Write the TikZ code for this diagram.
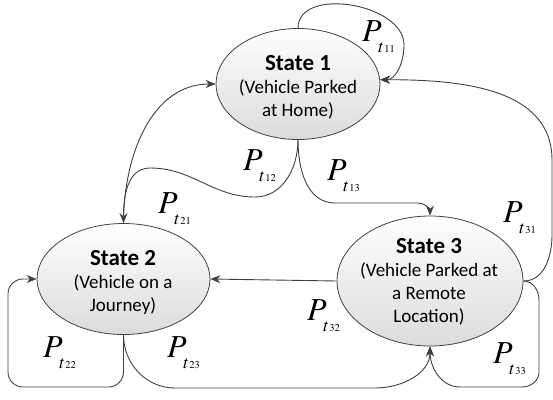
\documentclass[tikz,border=0pt]{standalone}
\usepackage{mathptmx}
\usepackage[no-math]{fontspec}
\setmainfont{Carlito}
\usepackage{tikz}
\usetikzlibrary{arrows.meta,shapes.geometric}
\definecolor{linegray}{HTML}{404040}
\def\ptr#1{{\fontsize{32}{32}\selectfont$P$}\kern-3.5pt\raisebox{-11pt}{\fontsize{18}{18}\selectfont$t$\kern0.3pt\fontsize{10.5}{10.5}\selectfont$#1$}}

\begin{document}
\begin{tikzpicture}[x=1pt,y=-1pt,
	state/.style={ellipse,draw=linegray,line width=0.8pt,top color=white,bottom color=black!14,inner sep=0pt},
	stext/.style={align=center,font=\fontsize{19}{23}\selectfont},
	trans/.style={draw=linegray,line width=0.9pt},
	arr/.style={-{Stealth[length=10pt,width=8pt]}},
	lbl/.style={inner sep=0pt,anchor=base west}]
			%%%%% START %%%%%
			\useasboundingbox (0,0) rectangle (553,399);
			
			\node[state, minimum width=164pt, minimum height=111pt] (s1) at (298, 84) {};
			\node[state, minimum width=173pt, minimum height=111pt] (s2) at (123.5, 279) {};
			\node[state, minimum width=186pt, minimum height=130pt] (s3) at (430, 281) {};
			
			\node[stext] (t1) at (298, 87) {{\fontsize{23}{25}\selectfont\bfseries State 1}\\(Vehicle Parked\\at Home)};
			\node[stext] (t2) at (123, 282) {{\fontsize{23}{25}\selectfont\bfseries State 2}\\(Vehicle on a\\Journey)};
			\node[stext] (t3) at (429, 282) {{\fontsize{23}{25}\selectfont\bfseries State 3}\\(Vehicle Parked at\\a Remote\\Location)};
			
			\draw[trans, arr] (s1.north) to[out=90, in=90] (404, 45) to[out=-90, in=0] (s1.3);
			\draw[trans, arr] (s2.north) to[out=90, in=180] (s1.west);
			\draw[trans, arr] (s1.south) to[out=-90, in=0] (255, 197) to[out=180, in=0] (150, 168) to[out=180, in=90] (s2.north);
			\draw[trans, arr] (s1.south) to[out=-90, in=180] (335, 203) -- (418, 203) to[out=0, in=90] (s3.north);
			\draw[trans, arr] (s3.east) to[out=0, in=-90] (552, 235) -- (552, 160) to[out=90, in=0] (s1.3);
			\draw[trans, arr] (s3.west) -- (s2.east);
			\draw[trans, arr, rounded corners=15pt] (s2.south) |- (8, 387) |- (s2.west);
			\draw[trans, arr] (s2.south) to[out=-90, in=180] (175, 388) -- (375, 388) to[out=0, in=-90] (s3.south);
			\draw[trans, arr] (s3.east) to[out=0, in=90] (539, 300) -- (539, 372) to[out=-90, in=0] (522, 387) -- (460, 387) to[out=180, in=-90] (s3.south);
			
			\node[lbl] (p11) at (362, 41) {\ptr{11}};
			\node[lbl] (p12) at (243, 170) {\ptr{12}};
			\node[lbl] (p21) at (158, 213) {\ptr{21}};
			\node[lbl] (p13) at (327, 180) {\ptr{13}};
			\node[lbl] (p31) at (503, 222) {\ptr{31}};
			\node[lbl] (p32) at (307, 320) {\ptr{32}};
			\node[lbl] (p22) at (43, 357) {\ptr{22}};
			\node[lbl] (p23) at (167, 357) {\ptr{23}};
			\node[lbl] (p33) at (493, 363) {\ptr{33}};
			
			%%%%% END %%%%%
		\end{tikzpicture}
\end{document}
